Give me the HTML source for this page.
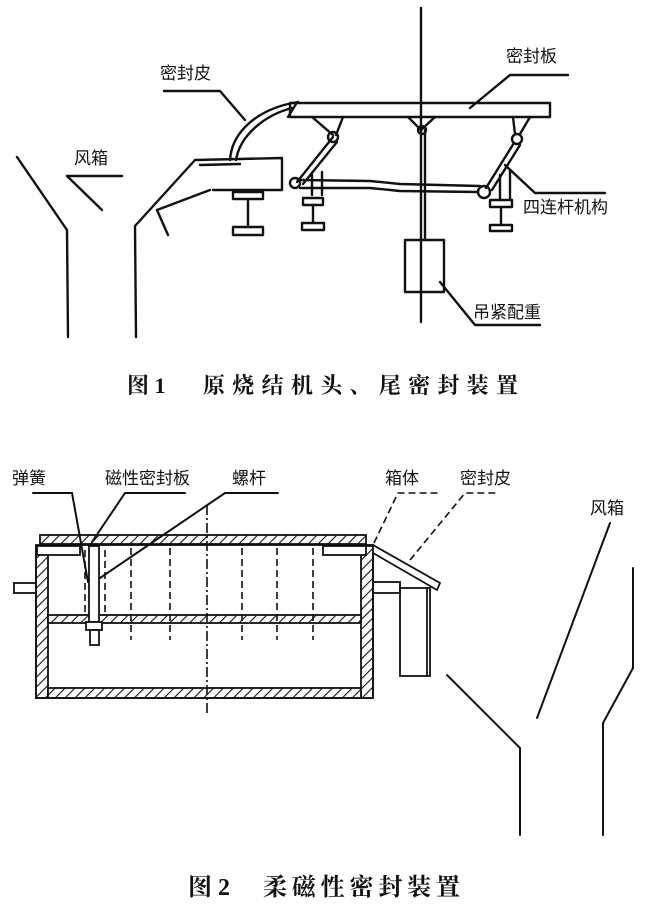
<!DOCTYPE html>
<html><head><meta charset="utf-8"><style>
html,body{margin:0;padding:0;background:#fff;}
svg{display:block;}
text{font-family:"Liberation Sans","Noto Sans CJK SC",sans-serif;fill:#111;}
.b{font-family:"Liberation Serif","Noto Serif CJK SC",serif;font-weight:bold;}
</style></head><body>
<svg width="652" height="906" viewBox="0 0 652 906" xmlns="http://www.w3.org/2000/svg">
<defs>
<pattern id="h" width="7" height="7" patternUnits="userSpaceOnUse" patternTransform="rotate(45)">
<rect width="7" height="7" fill="#fff"/><line x1="0" y1="0" x2="0" y2="7" stroke="#111" stroke-width="2.2"/>
</pattern>
</defs>
<g stroke="#111" stroke-width="2.4" fill="none" stroke-linecap="round" stroke-linejoin="round">
<!-- Fig1 wind box -->
<polyline points="17,157 67,230 68,337"/>
<polyline points="136,337 135,226 195,160 282,158 282,190 213,190"/>
<polyline points="157,210 210,190"/>
<polyline points="157,210 168,235"/>
<polyline points="200,165 240,164"/>
<polyline points="67,176 122,176"/>
<polyline points="67,176 102,210"/>
<!-- seal skin arc -->
<path d="M230,160 C232,130 260,108 298,102"/>
<path d="M236,160 C240,135 265,115 292,108"/>
<polyline points="164,91 220,91 245,120"/>
<!-- seal plate -->
<rect x="290" y="103" width="260" height="14"/>
<polyline points="288,117 296,104"/>
<polyline points="470,108 510,75 568,75"/>
<!-- vertical rod -->
<line x1="421" y1="8" x2="421" y2="322"/>
<line x1="425" y1="130" x2="425" y2="240"/>
<rect x="405" y="240" width="39" height="52"/>
<polyline points="440,282 475,325 540,325"/>
<!-- center bracket -->
<polyline points="408,117 421,130 435,117"/>
<circle cx="422" cy="130" r="4"/>
<!-- left linkage -->
<polyline points="312,117 333,135"/>
<polyline points="343,117 336,135"/>
<circle cx="333" cy="137" r="5"/>
<line x1="297" y1="182" x2="333" y2="137"/>
<line x1="303" y1="184" x2="337" y2="142"/>
<circle cx="295" cy="183" r="5"/>
<line x1="312" y1="175" x2="312" y2="195"/>
<line x1="322" y1="172" x2="322" y2="195"/>
<!-- right linkage -->
<polyline points="513,117 515,134"/>
<polyline points="530,117 520,134"/>
<circle cx="517" cy="139" r="5"/>
<line x1="486" y1="188" x2="514" y2="143"/>
<line x1="492" y1="190" x2="520" y2="145"/>
<circle cx="484" cy="192" r="6"/>
<line x1="500" y1="175" x2="500" y2="200"/>
<line x1="510" y1="170" x2="510" y2="200"/>
<polyline points="505,165 535,193 605,193"/>
<!-- horizontal link -->
<polyline points="300,180 370,181 400,184 480,186"/>
<polyline points="300,188 370,188 400,191 478,192"/>
<!-- pulleys -->
<rect x="233" y="192" width="30" height="7"/><line x1="248" y1="199" x2="248" y2="227"/><rect x="233" y="227" width="30" height="8"/>
<rect x="303" y="198" width="20" height="7"/><line x1="313" y1="205" x2="313" y2="223"/><rect x="302" y="223" width="22" height="7"/>
<rect x="490" y="200" width="22" height="7"/><line x1="501" y1="207" x2="501" y2="225"/><rect x="490" y="225" width="22" height="6"/>
</g>
<g font-size="17">
<text x="160" y="79">密封皮</text>
<text x="74" y="164">风箱</text>
<text x="506" y="62">密封板</text>
<text x="523" y="213">四连杆机构</text>
<text x="473" y="318">吊紧配重</text>
</g>
<text class="b" x="127" y="393" font-size="22">图 1</text>
<text class="b" x="203" y="393" font-size="22" textLength="315">原烧结机头、尾密封装置</text>

<!-- Fig2 -->
<g stroke="#111" stroke-width="1.8" fill="none">
<rect x="40" y="535" width="326" height="9" fill="url(#h)"/>
<rect x="36" y="546" width="12" height="152" fill="url(#h)"/>
<rect x="361" y="546" width="12" height="152" fill="url(#h)"/>
<rect x="48" y="688" width="313" height="10" fill="url(#h)"/>
<rect x="48" y="615" width="313" height="8" fill="url(#h)"/>
<rect x="36" y="545" width="337" height="153"/>
<rect x="37" y="546" width="43" height="9" fill="#fff"/>
<rect x="323" y="546" width="43" height="9" fill="#fff"/>
<rect x="14" y="583" width="22" height="10"/>
<rect x="373" y="582" width="27" height="11"/>
<rect x="400" y="588" width="30" height="88"/>
<line x1="427" y1="588" x2="427" y2="676"/>
<polygon points="373,545 440,583 437,590 373,553" fill="#fff"/>
<rect x="89" y="546" width="10" height="76" fill="#fff"/>
<rect x="86" y="622" width="16" height="8" fill="#fff"/>
<rect x="90" y="630" width="9" height="15" fill="#fff"/>
</g>
<g stroke="#111" stroke-width="1.6" fill="none" stroke-dasharray="7,4">
<line x1="85" y1="550" x2="85" y2="615"/>
<line x1="105" y1="550" x2="105" y2="615"/>
<line x1="131" y1="548" x2="131" y2="640"/>
<line x1="170" y1="548" x2="170" y2="640"/>
<line x1="242" y1="548" x2="242" y2="640"/>
<line x1="277" y1="548" x2="277" y2="640"/>
<line x1="313" y1="548" x2="313" y2="640"/>
<line x1="207" y1="505" x2="207" y2="716" stroke-dasharray="10,3,2,3"/>
<polyline points="374,543 398,493 440,493"/>
<polyline points="410,560 465,493 497,493"/>
</g>
<g stroke="#111" stroke-width="2" fill="none" stroke-linecap="round">
<polyline points="33,493 72,493 88,582"/>
<polyline points="92,542 125,493 185,493"/>
<polyline points="100,578 225,493 278,493"/>
<line x1="537" y1="718" x2="610" y2="523"/>
<polyline points="447,675 520,748 520,835"/>
<polyline points="633,568 633,668 603,723 603,835"/>
</g>
<g font-size="17">
<text x="12" y="484">弹簧</text>
<text x="105" y="484">磁性密封板</text>
<text x="232" y="484">螺杆</text>
<text x="385" y="484">箱体</text>
<text x="460" y="484">密封皮</text>
<text x="590" y="514">风箱</text>
</g>
<text class="b" x="188" y="895" font-size="24">图 2</text>
<text class="b" x="263" y="895" font-size="24" textLength="197">柔磁性密封装置</text>
</svg>
</body></html>
